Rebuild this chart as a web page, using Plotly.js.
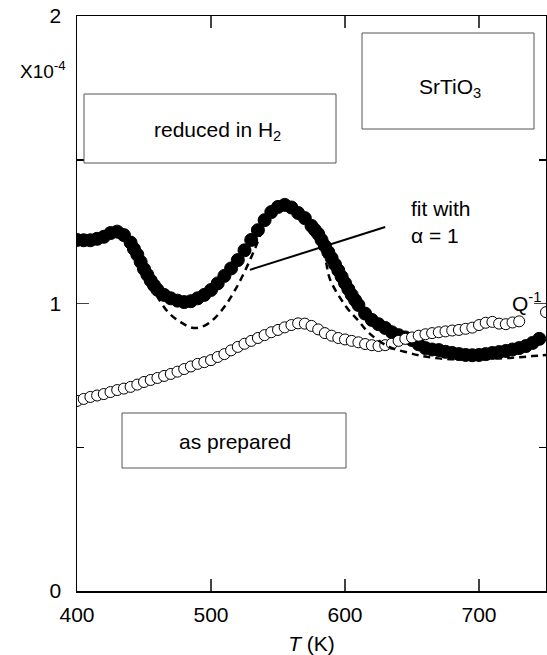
<!DOCTYPE html>
<html>
<head>
<meta charset="utf-8">
<script src="https://cdn.plot.ly/plotly-3.0.1.min.js"></script>
<style>html,body{margin:0;padding:0;background:#fff;}#chart{width:547px;height:655px;}</style>
</head>
<body>
<div id="chart"></div>
<script>
// Reduced in H2 (filled circles)
var redT = [400,405,410,415,420,425,430,435,440,442.5,445,447.5,450,452.5,455,457.5,460,465,470,475,480,485,490,495,500,505,510,515,520,525,530,535,540,545,550,555,560,565,570,575,577.5,580,582.5,585,587.5,590,592.5,595,597.5,600,602.5,605,607.5,610,615,620,625,630,635,640,645,650,655,660,665,670,675,680,685,690,695,700,705,710,715,720,725,730,735,740,745];
var redQ = [1.221,1.22,1.22,1.225,1.232,1.245,1.25,1.238,1.212,1.19,1.17,1.145,1.12,1.1,1.08,1.063,1.048,1.03,1.018,1.01,1.005,1.008,1.018,1.03,1.047,1.07,1.096,1.122,1.151,1.185,1.221,1.255,1.29,1.318,1.336,1.343,1.334,1.315,1.297,1.27,1.256,1.242,1.221,1.2,1.179,1.158,1.136,1.115,1.093,1.071,1.05,1.03,1.012,0.995,0.965,0.943,0.928,0.915,0.9,0.89,0.882,0.873,0.858,0.845,0.84,0.838,0.832,0.828,0.824,0.821,0.82,0.821,0.824,0.828,0.831,0.835,0.84,0.845,0.852,0.863,0.877];

// As prepared (open circles)
var prepT = [400,405,410,415,420,425,430,435,440,445,450,455,460,465,470,475,480,485,490,495,500,505,510,515,520,525,530,535,540,545,550,555,560,565,570,575,580,585,590,595,600,605,610,615,620,625,630,635,640,645,650,655,660,665,670,675,680,685,690,695,700,705,710,715,720,725,730,750];
var prepQ = [0.661,0.668,0.675,0.68,0.685,0.692,0.699,0.704,0.71,0.718,0.727,0.734,0.741,0.748,0.755,0.763,0.772,0.781,0.79,0.796,0.803,0.814,0.824,0.837,0.849,0.86,0.87,0.88,0.89,0.9,0.908,0.917,0.925,0.931,0.93,0.922,0.91,0.897,0.888,0.88,0.875,0.87,0.865,0.859,0.855,0.852,0.855,0.86,0.87,0.877,0.882,0.888,0.893,0.897,0.9,0.903,0.906,0.908,0.912,0.916,0.925,0.933,0.936,0.93,0.928,0.934,0.938,0.97];

// Fit with alpha = 1 (dashed)
var fitT = [455,460,468,477,487,496,503,511,518,525,533,540,548,553,558,566,574,579,585,589,601,610,618,633,648,658,668,680,690,700,710,720,730,740,750];
var fitQ = [1.064,1.023,0.970,0.936,0.915,0.925,0.95,0.995,1.047,1.11,1.193,1.273,1.325,1.346,1.35,1.33,1.27,1.231,1.16,1.082,0.988,0.94,0.897,0.849,0.828,0.817,0.81,0.806,0.806,0.806,0.808,0.81,0.813,0.817,0.821];

// Pointer line from label to fit curve
var pointerT = [529, 630];
var pointerQ = [1.117, 1.266];

var xTicks = [400,500,600,700];
var yTicks = [0,1,2];
var yTickText = ['0','1','2'];

var W = 547, H = 655, L = 77, R = 1, T = 16, B = 64;
function px(x){ return (x - L) / (W - L - R); }
function py(y){ return (H - B - y) / (H - T - B); }

var font = 'Liberation Sans';

var traces = [
  {x: redT, y: redQ, mode: 'markers', type: 'scatter',
   marker: {symbol: 'circle', size: 13, color: '#000', line: {color: '#000', width: 1}}},
  {x: prepT, y: prepQ, mode: 'markers', type: 'scatter',
   marker: {symbol: 'circle', size: 11, color: '#fff', line: {color: '#000', width: 1}}},
  {x: fitT, y: fitQ, mode: 'lines', type: 'scatter', line: {shape: 'spline', color: '#000', width: 2.5, dash: '7px,5px'}},
  {x: pointerT, y: pointerQ, mode: 'lines', type: 'scatter', line: {color: '#000', width: 2}}
];

function box(x0, y0, x1, y1){
  return {type: 'rect', xref: 'paper', yref: 'paper', x0: px(x0), x1: px(x1), y0: py(y1), y1: py(y0),
          line: {color: '#555', width: 1}, fillcolor: 'rgba(0,0,0,0)'};
}

function ann(x, y, text, size, extra){
  var a = {xref: 'paper', yref: 'paper', x: px(x), y: py(y), text: text, showarrow: false,
           xanchor: 'center', yanchor: 'middle', font: {family: font, size: size, color: '#000'}};
  if (extra) for (var k in extra) a[k] = extra[k];
  return a;
}

var layout = {
  width: W, height: H,
  margin: {l: L, r: R, t: T, b: B},
  paper_bgcolor: '#fff', plot_bgcolor: '#fff',
  showlegend: false,
  font: {family: font, size: 21, color: '#000'},
  xaxis: {range: [400, 750], tickvals: xTicks, ticks: 'inside', ticklen: 12, tickwidth: 1.5,
          showline: true, linewidth: 1.5, linecolor: '#000', mirror: 'ticks', showgrid: false, zeroline: false,
          ticklabelstandoff: 4, tickfont: {family: font, size: 21},
          title: {text: '<i>T</i> (K)', font: {family: font, size: 21}, standoff: 12}},
  yaxis: {range: [0, 2], tickvals: yTicks, ticktext: yTickText, ticks: 'inside', ticklen: 12, tickwidth: 1.5,
          showline: true, linewidth: 1.5, linecolor: '#000', mirror: 'ticks', showgrid: false, zeroline: false,
          ticklabelstandoff: 10, tickfont: {family: font, size: 21},
          minor: {tickvals: [0.5, 1.5], ticks: 'inside', ticklen: 7, tickwidth: 1.5, tickcolor: '#000', showgrid: false}},
  shapes: [box(84, 94, 336, 163), box(362, 33, 534, 129), box(122, 413, 346, 468)],
  annotations: [
    ann(217, 131, 'reduced in H<sub>2</sub>', 21),
    ann(450, 88, 'SrTiO<sub>3</sub>', 21),
    ann(235, 441, 'as prepared', 21),
    ann(409, 222, 'fit with<br>α = 1', 21, {xanchor: 'left', align: 'left'}),
    ann(43, 70, 'X10<sup>-4</sup>', 19),
    ann(526, 302, 'Q<sup>-1</sup>', 21)
  ]
};

function draw(){
  Plotly.newPlot('chart', traces, layout, {displayModeBar: false, staticPlot: true});
}
if (document.fonts && document.fonts.load) {
  document.fonts.load('21px "Liberation Sans"').then(draw, draw);
} else {
  draw();
}
</script>
</body>
</html>
